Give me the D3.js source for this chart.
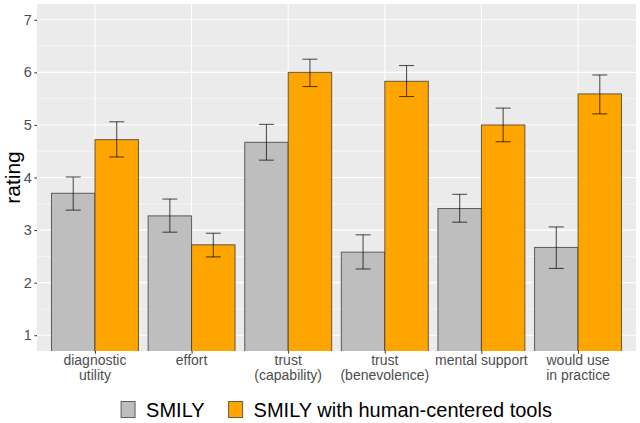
<!DOCTYPE html>
<html>
<head>
<meta charset="utf-8">
<script src="https://cdn.jsdelivr.net/npm/d3@7"></script>
<style>
  body { margin: 0; background: #fff; }
  svg { display: block; font-family: "Liberation Sans", Arial, sans-serif; }
</style>
</head>
<body>
<svg id="chart" width="640" height="423"></svg>
<script>
// Data
const categories = ['diagnostic\nutility', 'effort', 'trust\n(capability)', 'trust\n(benevolence)', 'mental support', 'would use\nin practice'];
const groups = ['SMILY', 'SMILY with human-centered tools'];
const smilyMean = [3.70, 3.27, 4.67, 2.58, 3.41, 2.67];
const smilyLow  = [3.38, 2.96, 4.33, 2.26, 3.15, 2.27];
const smilyHigh = [4.01, 3.59, 5.01, 2.91, 3.68, 3.06];
const toolsMean = [4.72, 2.72, 6.00, 5.83, 5.00, 5.59];
const toolsLow  = [4.39, 2.49, 5.73, 5.54, 4.68, 5.21];
const toolsHigh = [5.06, 2.94, 6.25, 6.13, 5.32, 5.95];
const yTicks = [1, 2, 3, 4, 5, 6, 7];
const colors = ['#BEBEBE', '#FFA500'];

const rows = [];
categories.forEach((c, i) => {
    rows.push({ cat: c, group: groups[0], mean: smilyMean[i], lo: smilyLow[i], hi: smilyHigh[i] });
    rows.push({ cat: c, group: groups[1], mean: toolsMean[i], lo: toolsLow[i], hi: toolsHigh[i] });
});

// Layout
const panel = { left: 37, right: 636, top: 4, bottom: 351 };
const svg = d3.select('#chart');

const x = d3.scalePoint()
    .domain(categories)
    .range([panel.left, panel.right])
    .padding(0.6);
const step = x.step();
const dodge = d3.scaleBand()
    .domain(groups)
    .range([-0.45 * step, 0.45 * step]);

const y = d3.scaleLinear()
    .domain([0.7, 7.3])
    .range([panel.bottom, panel.top]);

const color = d3.scaleOrdinal().domain(groups).range(colors);

// Panel background
svg.append('rect')
    .attr('x', panel.left).attr('y', panel.top)
    .attr('width', panel.right - panel.left)
    .attr('height', panel.bottom - panel.top)
    .attr('fill', '#EBEBEB');

// Minor grid
const minor = d3.range(1.5, 7.3, 1);
svg.append('g').selectAll('line').data(minor).join('line')
    .attr('x1', panel.left).attr('x2', panel.right)
    .attr('y1', d => y(d)).attr('y2', d => y(d))
    .attr('stroke', '#fff').attr('stroke-width', 0.55);

// Major grid
svg.append('g').selectAll('line').data(yTicks).join('line')
    .attr('x1', panel.left).attr('x2', panel.right)
    .attr('y1', d => y(d)).attr('y2', d => y(d))
    .attr('stroke', '#fff').attr('stroke-width', 1.1);
svg.append('g').selectAll('line').data(categories).join('line')
    .attr('x1', d => x(d)).attr('x2', d => x(d))
    .attr('y1', panel.top).attr('y2', panel.bottom)
    .attr('stroke', '#fff').attr('stroke-width', 1.1);

// Bars (clipped to panel)
svg.append('clipPath').attr('id', 'clip')
    .append('rect')
    .attr('x', panel.left).attr('y', panel.top)
    .attr('width', panel.right - panel.left)
    .attr('height', panel.bottom - panel.top);

const plot = svg.append('g').attr('clip-path', 'url(#clip)');

plot.selectAll('rect.bar').data(rows).join('rect')
    .attr('class', 'bar')
    .attr('x', d => x(d.cat) + dodge(d.group))
    .attr('width', dodge.bandwidth())
    .attr('y', d => y(d.mean))
    .attr('height', d => y(0) - y(d.mean))
    .attr('fill', d => color(d.group))
    .attr('stroke', '#333')
    .attr('stroke-opacity', 0.75)
    .attr('stroke-width', 1);

// Error bars
const capW = step * 0.155;
const eb = plot.selectAll('g.err').data(rows).join('g')
    .attr('class', 'err')
    .attr('stroke', '#000')
    .attr('stroke-opacity', 0.65)
    .attr('stroke-width', 1.1)
    .attr('transform', d => `translate(${x(d.cat) + dodge(d.group) + dodge.bandwidth() / 2},0)`);
eb.append('line').attr('x1', 0).attr('x2', 0)
    .attr('y1', d => y(d.lo)).attr('y2', d => y(d.hi));
eb.append('line').attr('x1', -capW / 2).attr('x2', capW / 2)
    .attr('y1', d => y(d.lo)).attr('y2', d => y(d.lo));
eb.append('line').attr('x1', -capW / 2).attr('x2', capW / 2)
    .attr('y1', d => y(d.hi)).attr('y2', d => y(d.hi));

// Y axis
const yAxis = svg.append('g')
    .attr('transform', `translate(${panel.left},0)`)
    .call(d3.axisLeft(y).tickValues(yTicks).tickSize(2.7).tickPadding(2.5).tickFormat(d3.format('d')));
yAxis.select('.domain').remove();
yAxis.selectAll('.tick line').attr('stroke', '#333');
yAxis.selectAll('.tick text')
    .attr('fill', '#4D4D4D')
    .style('font-size', '14.5px')
    .style('font-family', '"Liberation Sans", Arial, sans-serif');

// X axis
const xAxis = svg.append('g')
    .attr('transform', `translate(0,${panel.bottom})`)
    .call(d3.axisBottom(x).tickSize(2.7).tickFormat(''));
xAxis.select('.domain').remove();
xAxis.selectAll('.tick line').attr('stroke', '#333');

const xLabels = svg.append('g').selectAll('text').data(categories).join('text')
    .attr('x', d => x(d))
    .attr('y', panel.bottom + 14)
    .attr('text-anchor', 'middle')
    .attr('fill', '#4D4D4D')
    .style('font-size', '14px');
xLabels.selectAll('tspan').data(d => d.split('\n')).join('tspan')
    .attr('x', function () { return d3.select(this.parentNode).attr('x'); })
    .attr('dy', (d, i) => i === 0 ? 0 : 15)
    .text(d => d);

// Y title
svg.append('text')
    .attr('transform', `translate(20,${(panel.top + panel.bottom) / 2}) rotate(-90)`)
    .attr('text-anchor', 'middle')
    .attr('fill', '#000')
    .style('font-size', '21px')
    .text('rating');

// Legend
const legend = svg.append('g');
const keyW = 14, keyH = 16, keyGap = 11, itemGap = 24;
let lx = 0;
groups.forEach(g => {
    const item = legend.append('g').attr('transform', `translate(${lx},0)`);
    item.append('rect')
        .attr('x', 0).attr('y', -keyH + 0.5)
        .attr('width', keyW).attr('height', keyH)
        .attr('fill', color(g))
        .attr('stroke', '#333').attr('stroke-opacity', 0.75);
    const t = item.append('text')
        .attr('x', keyW + keyGap).attr('y', 0)
        .attr('fill', '#000')
        .style('font-size', '20px')
        .text(g);
    lx += keyW + keyGap + t.node().getComputedTextLength() + itemGap;
});
const legendW = lx - itemGap;
legend.attr('transform', `translate(${(panel.left + panel.right) / 2 - legendW / 2},417)`);
</script>
</body>
</html>
